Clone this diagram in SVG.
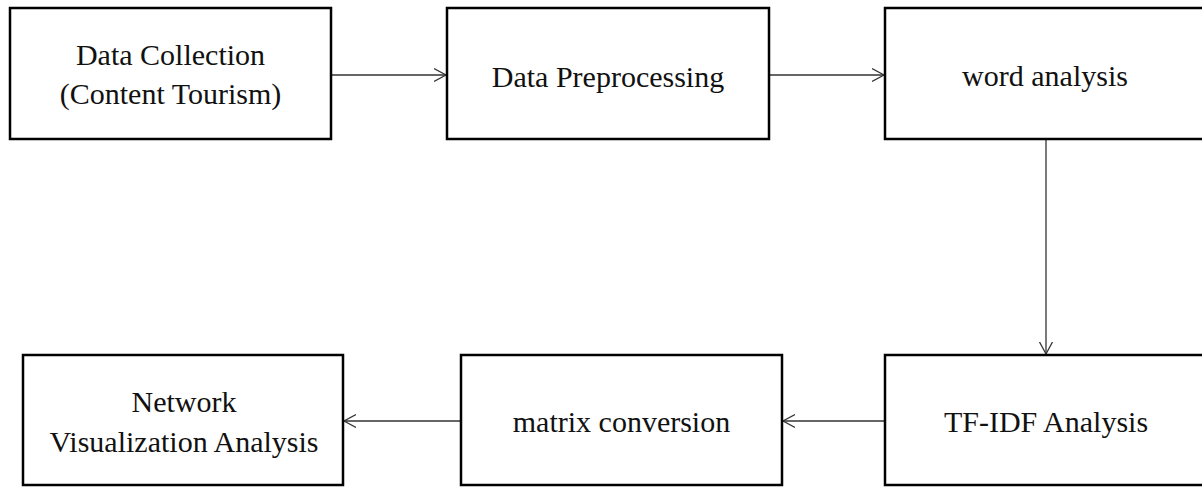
<svg xmlns="http://www.w3.org/2000/svg" width="1202" height="487" viewBox="0 0 1202 487">
<style>
.box{fill:#fff;stroke:#000;stroke-width:2.5}
.lbl{font-family:"Liberation Serif","Times New Roman",serif;font-size:30px;fill:#111;text-anchor:middle}
.conn{stroke:#333;stroke-width:1.3;fill:none}
</style>
<defs>
<marker id="arr" markerUnits="userSpaceOnUse" markerWidth="16" markerHeight="16" refX="12" refY="8" orient="auto">
<path d="M0,1.5 L12,8 L0,14.5" fill="none" stroke="#333" stroke-width="1.3"/>
</marker>
</defs>
<rect width="1202" height="487" fill="#fff"/>
<g id="connectors">
<line class="conn" x1="331" y1="75" x2="446" y2="75" marker-end="url(#arr)"/>
<line class="conn" x1="769" y1="75" x2="884" y2="75" marker-end="url(#arr)"/>
<line class="conn" x1="1046" y1="139" x2="1046" y2="354" marker-end="url(#arr)"/>
<line class="conn" x1="885" y1="421" x2="783" y2="421" marker-end="url(#arr)"/>
<line class="conn" x1="461" y1="421" x2="344" y2="421" marker-end="url(#arr)"/>
</g>
<g id="n1">
<rect class="box" x="10" y="8" width="321" height="131"/>
<text class="lbl" x="170.5" y="65">Data Collection</text>
<text class="lbl" x="170.5" y="104">(Content Tourism)</text>
</g>
<g id="n2">
<rect class="box" x="447" y="8" width="322" height="131"/>
<text class="lbl" x="608" y="87">Data Preprocessing</text>
</g>
<g id="n3">
<rect class="box" x="885" y="8" width="322" height="131"/>
<text class="lbl" x="1045" y="86">word analysis</text>
</g>
<g id="n4">
<rect class="box" x="885" y="355" width="322" height="130"/>
<text class="lbl" x="1046" y="432">TF-IDF Analysis</text>
</g>
<g id="n5">
<rect class="box" x="461" y="355" width="321" height="130"/>
<text class="lbl" x="621.5" y="432">matrix conversion</text>
</g>
<g id="n6">
<rect class="box" x="23" y="355" width="320" height="130"/>
<text class="lbl" x="184" y="412">Network</text>
<text class="lbl" x="184" y="452">Visualization Analysis</text>
</g>
</svg>
